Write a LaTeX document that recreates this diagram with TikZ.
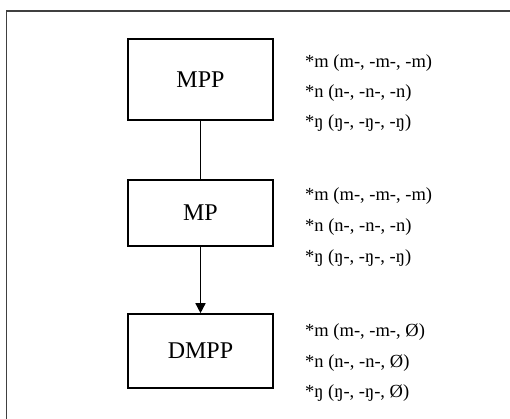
\documentclass[tikz,border=0pt]{standalone}
\usepackage{fontspec}
\setmainfont{Liberation Serif}
\usetikzlibrary{arrows.meta}
\tikzset{
  box/.style={draw=black, line width=1.6pt, minimum width=145pt, inner sep=0pt, font=\fontsize{24}{29}\selectfont},
  lbl/.style={anchor=base west, inner sep=0pt, font=\fontsize{18.5}{22}\selectfont},
  link/.style={draw=black, line width=1.5pt},
}
\begin{document}
\begin{tikzpicture}[x=1pt,y=-1pt]
\useasboundingbox (0,0) rectangle (510,419);
\fill[white] (0,0) rectangle (510,419);
\draw[line width=1.8pt, draw=black!75] (6.5,419) -- (6.5,11) -- (510,11);
\node[box, minimum height=81pt] (mpp) at (200.5,79.5) {MPP};
\node[box, minimum height=66pt] (mp) at (200.5,213) {MP};
\node[box, minimum height=74pt] (dmpp) at (200.5,351) {DMPP};
\draw[link] (mpp.south) -- (mp.north);
\draw[link, -{Triangle[width=10pt,length=10pt]}] (mp.south) -- (dmpp.north);
\node[lbl] (a1) at (305,67.5) {*m (m-, -m-, -m)};
\node[lbl] (a2) at (305,98) {*n (n-, -n-, -n)};
\node[lbl] (a3) at (305,128) {*ŋ (ŋ-, -ŋ-, -ŋ)};
\node[lbl] (b1) at (305,201) {*m (m-, -m-, -m)};
\node[lbl] (b2) at (305,232) {*n (n-, -n-, -n)};
\node[lbl] (b3) at (305,262.5) {*ŋ (ŋ-, -ŋ-, -ŋ)};
\node[lbl] (c1) at (305,336.5) {*m (m-, -m-, Ø)};
\node[lbl] (c2) at (305,367) {*n (n-, -n-, Ø)};
\node[lbl] (c3) at (305,397.5) {*ŋ (ŋ-, -ŋ-, Ø)};
\end{tikzpicture}
\end{document}
